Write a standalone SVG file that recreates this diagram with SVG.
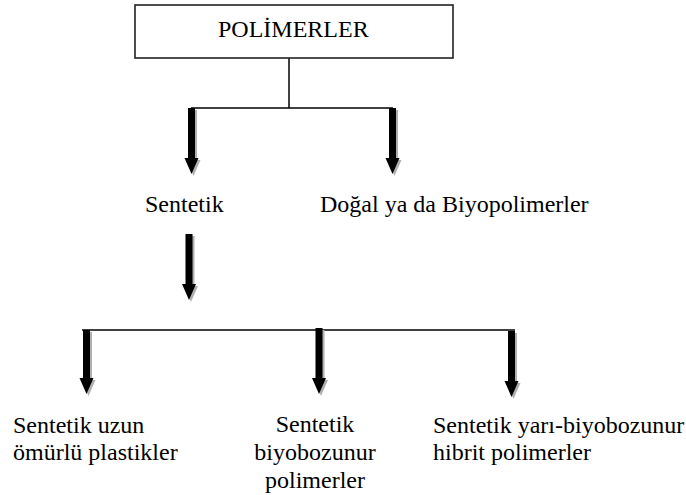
<svg xmlns="http://www.w3.org/2000/svg" width="686" height="495" viewBox="0 0 686 495">
<style>
.box{fill:#fff;stroke:#222;stroke-width:1.6}
.ln{stroke:#000;stroke-width:1.5;fill:none}
.sh{fill:#b0b0b0}
.ar{fill:#000}
</style>
<defs>
<polygon id="a1" points="188,108 195,108 195,158 198.5,158 191.5,174 184.5,158 188,158"/>
<polygon id="a2" points="389,108 396,108 396,158 399.5,158 392.5,174 385.5,158 389,158"/>
<polygon id="a3" points="185.5,234 192.5,234 192.5,284 196,284 189,300 182,284 185.5,284"/>
<polygon id="a4" points="83,330 90,330 90,378 93.5,378 86.5,394 79.5,378 83,378"/>
<polygon id="a5" points="315.5,328 322.5,328 322.5,378 326,378 319,394 312,378 315.5,378"/>
<polygon id="a6" points="508,331 515,331 515,381 518.5,381 511.5,397 504.5,381 508,381"/>
</defs>
<g id="connectors">
<line class="ln" x1="289" y1="58" x2="289" y2="108"/>
<line class="ln" x1="191" y1="108" x2="393" y2="108"/>
<line class="ln" x1="82" y1="330" x2="515" y2="330"/>
<use href="#a1" class="sh" x="2" y="2"/><use href="#a1" class="ar"/>
<use href="#a2" class="sh" x="2" y="2"/><use href="#a2" class="ar"/>
<use href="#a3" class="sh" x="2" y="2"/><use href="#a3" class="ar"/>
<use href="#a4" class="sh" x="2" y="2"/><use href="#a4" class="ar"/>
<use href="#a5" class="sh" x="2" y="2"/><use href="#a5" class="ar"/>
<use href="#a6" class="sh" x="2" y="2"/><use href="#a6" class="ar"/>
</g>
<g font-family="'Liberation Serif', 'Times New Roman', Tinos, 'DejaVu Serif', serif" font-size="24" fill="#000">
<g id="polimerler">
<rect class="box" x="135" y="5" width="318" height="53"/>
<text x="218" y="37">POLİMERLER</text>
</g>
<g id="sentetik">
<text x="145" y="212">Sentetik</text>
</g>
<g id="dogal">
<text x="320" y="212">Doğal ya da Biyopolimerler</text>
</g>
<g id="uzun-omurlu">
<text x="13" y="433">Sentetik uzun</text>
<text x="13" y="460">ömürlü plastikler</text>
</g>
<g id="biyobozunur">
<text x="315" y="432" text-anchor="middle">Sentetik</text>
<text x="315" y="460" text-anchor="middle">biyobozunur</text>
<text x="315" y="488" text-anchor="middle">polimerler</text>
</g>
<g id="hibrit">
<text x="433" y="433">Sentetik yarı-biyobozunur</text>
<text x="433" y="460">hibrit polimerler</text>
</g>
</g>
</svg>
